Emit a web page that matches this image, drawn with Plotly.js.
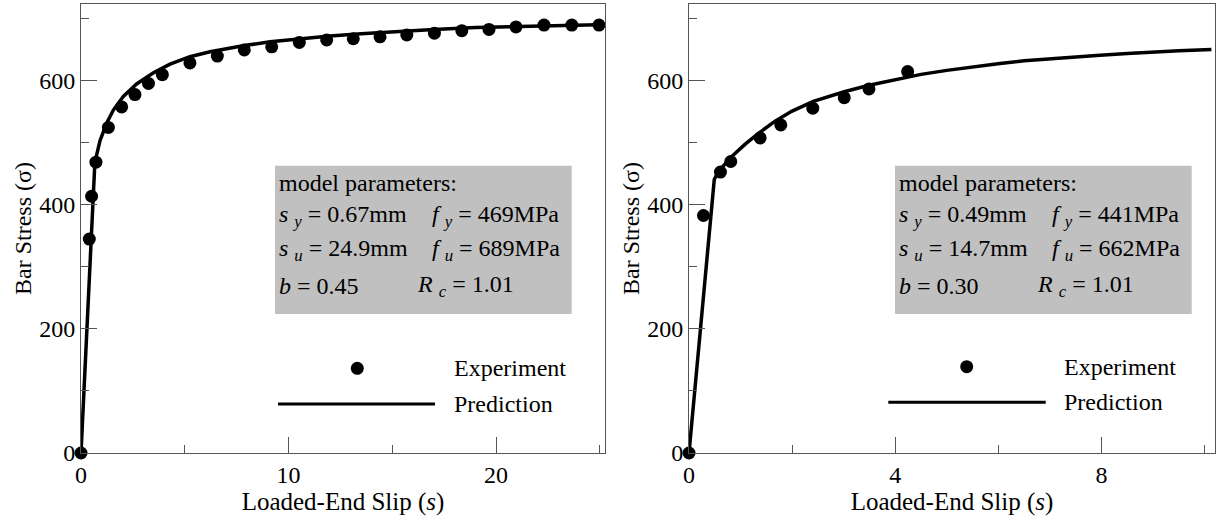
<!DOCTYPE html>
<html>
<head>
<meta charset="utf-8">
<script src="https://cdn.plot.ly/plotly-3.0.1.min.js"></script>
<style>html,body{margin:0;padding:0;background:#fff;}#chart{width:1223px;height:525px;}</style>
</head>
<body>
<div id="chart"></div>
<script>
// ---- Data ----
// Left panel
const expSlipA   = [0, 0.40, 0.51, 0.72, 1.32, 1.96, 2.60, 3.25, 3.92, 5.25, 6.57, 7.87, 9.19, 10.52, 11.84, 13.12, 14.41, 15.70, 17.03, 18.35, 19.66, 20.96, 22.31, 23.65, 24.96];
const expStressA = [0, 345, 414, 469, 525, 558, 578, 596, 610, 629, 640, 650, 655, 662, 666, 668, 671, 674, 677, 681, 683, 687, 690, 690, 690];
const predSlipA   = [0, 0.67, 0.92, 1.24, 1.56, 2.04, 2.68, 3.49, 4.29, 5.25, 6.22, 7.0, 7.87, 9.11, 10.5, 12.0, 13.5, 15.0, 17.0, 19.0, 21.0, 23.0, 24.9];
const predStressA = [0, 469, 504, 532, 553, 575, 595, 613, 627, 639, 647, 652, 657, 663, 668, 672.5, 676, 679.5, 683, 686, 688, 689.5, 690.5];
// Right panel
const expSlipB   = [0, 0.28, 0.61, 0.81, 1.38, 1.78, 2.40, 3.01, 3.49, 4.24];
const expStressB = [0, 383, 453, 470, 508, 529, 556, 573, 587, 615];
const predSlipB   = [0, 0.49, 0.57, 0.83, 1.09, 1.34, 1.67, 1.99, 2.41, 3.01, 3.49, 4.0, 4.5, 5.0, 5.5, 6.03, 6.5, 7.0, 7.5, 7.97, 8.5, 9.0, 9.5, 10.13];
const predStressB = [0, 441, 454, 478, 498, 515, 535, 551, 567, 582.5, 593, 602.5, 610.5, 617, 623, 628, 632.5, 636, 639, 641.5, 644, 646.5, 648.5, 650.5];
// Labels
const seriesNames = ["Experiment", "Prediction"];
const xTitle = "Loaded-End Slip (<i>s</i>)";
const yTitle = "Bar Stress (σ)";
const paramsA = ["model parameters:", "<i>s</i> <sub><i>y</i></sub> = 0.67mm", "<i>f</i> <sub><i>y</i></sub> = 469MPa",
                 "<i>s</i> <sub><i>u</i></sub> = 24.9mm", "<i>f</i> <sub><i>u</i></sub> = 689MPa", "<i>b</i> = 0.45", "<i>R</i> <sub><i>c</i></sub> = 1.01"];
const paramsB = ["model parameters:", "<i>s</i> <sub><i>y</i></sub> = 0.49mm", "<i>f</i> <sub><i>y</i></sub> = 441MPa",
                 "<i>s</i> <sub><i>u</i></sub> = 14.7mm", "<i>f</i> <sub><i>u</i></sub> = 662MPa", "<i>b</i> = 0.30", "<i>R</i> <sub><i>c</i></sub> = 1.01"];

// ---- Layout helpers (pixel -> paper) ----
const W = 1223, H = 525, ML = 81, MR = 8, MT = 4, MB = 72;
const PW = W - ML - MR, PH = H - MT - MB;
const px = v => (v - ML) / PW;
const py = v => (H - MB - v) / PH;
const FONT = "Liberation Serif, Times New Roman, serif";
const AX = '#555';

const traces = [
  {x: predSlipA, y: predStressA, xaxis: 'x', yaxis: 'y', mode: 'lines', name: seriesNames[1],
   line: {color: '#000', width: 3.5}, showlegend: false},
  {x: expSlipA, y: expStressA, xaxis: 'x', yaxis: 'y', mode: 'markers', name: seriesNames[0],
   marker: {color: '#000', size: 13}, cliponaxis: false, showlegend: false},
  {x: predSlipB, y: predStressB, xaxis: 'x2', yaxis: 'y2', mode: 'lines', name: seriesNames[1],
   line: {color: '#000', width: 3.5}, showlegend: false},
  {x: expSlipB, y: expStressB, xaxis: 'x2', yaxis: 'y2', mode: 'markers', name: seriesNames[0],
   marker: {color: '#000', size: 13}, cliponaxis: false, showlegend: false}
];

function xax(domain, range, dtick, minor, anchor) {
  return {domain: domain, range: range, anchor: anchor,
    showgrid: false, zeroline: false, showline: true, linecolor: AX, linewidth: 1, mirror: true,
    ticks: 'inside', ticklen: 16, tickcolor: AX, tickwidth: 1, tick0: 0, dtick: dtick,
    minor: {dtick: minor, tick0: 0, ticks: 'inside', ticklen: 8, tickcolor: AX, tickwidth: 1, showgrid: false},
    tickfont: {family: FONT, size: 24, color: '#000'},
    title: {text: xTitle, font: {family: FONT, size: 25, color: '#000'}, standoff: 0}};
}
function yax(anchor) {
  return {domain: [0, 1], range: [0, 724], anchor: anchor,
    showgrid: false, zeroline: false, showline: true, linecolor: AX, linewidth: 1, mirror: true,
    ticks: 'inside', ticklen: 16, tickcolor: AX, tickwidth: 1, tick0: 0, dtick: 200,
    minor: {dtick: 100, tick0: 0, ticks: 'inside', ticklen: 8, tickcolor: AX, tickwidth: 1, showgrid: false},
    tickfont: {family: FONT, size: 24, color: '#000'},
    title: {text: yTitle, font: {family: FONT, size: 24, color: '#000'}, standoff: 0}};
}

const dB = (689 - ML) / PW;
const shapes = [], annotations = [];
function panel(off, params) {
  shapes.push({type: 'rect', xref: 'paper', yref: 'paper', layer: 'below',
    x0: px(275 + off), x1: px(571.7 + off), y0: py(314), y1: py(165.7),
    fillcolor: '#c0c0c0', line: {width: 0}});
  const t = (txt, x, y) => annotations.push({xref: 'paper', yref: 'paper', x: px(x + off), y: py(y),
    xanchor: 'left', yanchor: 'middle', showarrow: false, text: txt,
    font: {family: FONT, size: 24, color: '#000'}});
  t(params[0], 277, 183);
  t(params[1], 277, 216);
  t(params[2], 430, 216);
  t(params[3], 277, 250);
  t(params[4], 430, 250);
  t(params[5], 277, 286);
  t(params[6], 415, 286);
}
panel(0, paramsA);
panel(620, paramsB);

function legendBlock(mx, my, lx0, lx1, ly, tx) {
  shapes.push({type: 'circle', xref: 'paper', yref: 'paper',
    x0: px(mx - 6.5), x1: px(mx + 6.5), y0: py(my + 6.5), y1: py(my - 6.5),
    fillcolor: '#000', line: {width: 0}});
  shapes.push({type: 'line', xref: 'paper', yref: 'paper',
    x0: px(lx0), x1: px(lx1), y0: py(ly), y1: py(ly), line: {color: '#000', width: 3}});
  annotations.push({xref: 'paper', yref: 'paper', x: px(tx), y: py(my), xanchor: 'left', yanchor: 'middle',
    showarrow: false, text: seriesNames[0], font: {family: FONT, size: 24, color: '#000'}});
  annotations.push({xref: 'paper', yref: 'paper', x: px(tx), y: py(ly), xanchor: 'left', yanchor: 'middle',
    showarrow: false, text: seriesNames[1], font: {family: FONT, size: 24, color: '#000'}});
}
legendBlock(357.3, 368.3, 278, 435, 404, 451.7);
legendBlock(966.7, 366.7, 888.3, 1045.7, 402.3, 1061.7);

const layout = {
  width: W, height: H, margin: {l: ML, r: MR, t: MT, b: MB, pad: 0},
  paper_bgcolor: '#fff', plot_bgcolor: '#fff', showlegend: false,
  font: {family: FONT, size: 24, color: '#000'},
  xaxis: xax([0, (605 - ML) / PW], [0, 25.25], 10, 5, 'y'),
  yaxis: yax('x'),
  xaxis2: xax([dB, 1], [0, 10.2], 4, 2, 'y2'),
  yaxis2: yax('x2'),
  shapes: shapes, annotations: annotations
};
Plotly.newPlot('chart', traces, layout, {displayModeBar: false});
</script>
</body>
</html>
